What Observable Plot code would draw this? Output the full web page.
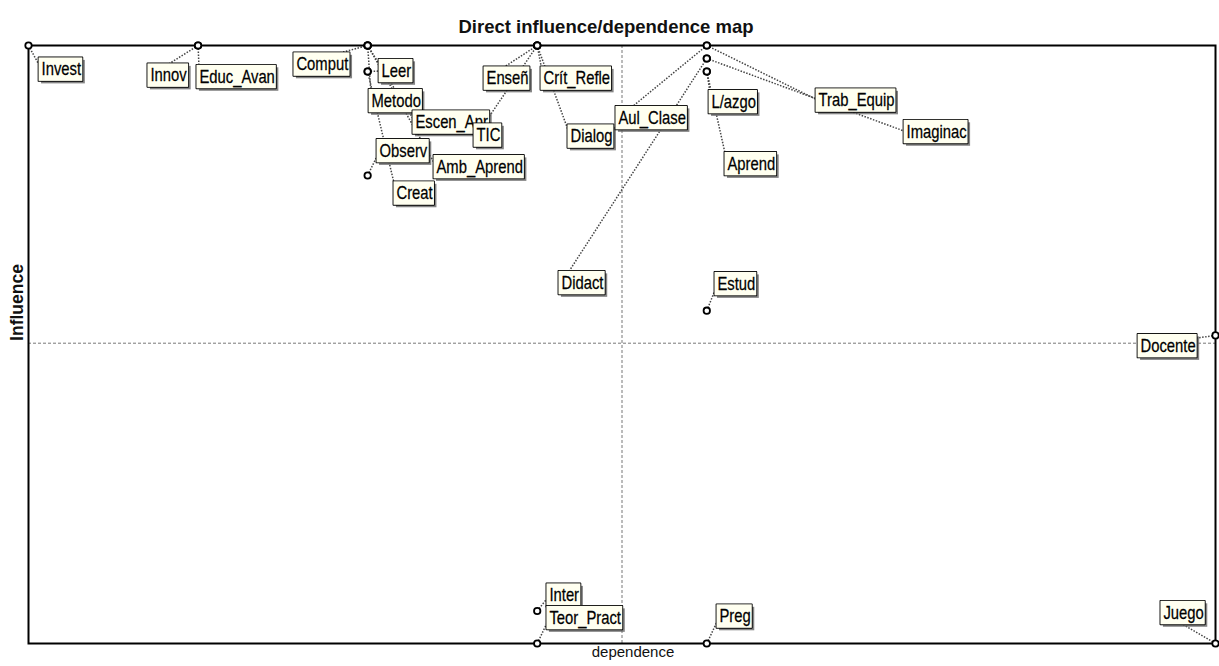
<!DOCTYPE html>
<html>
<head>
<meta charset="utf-8">
<script src="https://cdn.jsdelivr.net/npm/d3@7"></script>
<script src="https://cdn.jsdelivr.net/npm/@observablehq/plot@0.6"></script>
<style>
  html, body { margin: 0; padding: 0; background: #fff; }
  #chart svg { display: block; }
</style>
</head>
<body>
<div id="chart"></div>
<script>
const variables = ["Invest","Innov","Educ_Avan","Comput","Leer","Metodo","Escen_Apr","TIC","Observ","Amb_Aprend","Creat","Enseñ","Crít_Refle","Dialog","Aul_Clase","L/azgo","Aprend","Trab_Equip","Imaginac","Didact","Estud","Docente","Inter","Teor_Pract","Preg","Juego"];
const dependence = [0,1,1,2,2,2,2,3,2,2,2,3,3,3,4,4,4,4,4,4,4,7,3,3,4,7];
const influence = [46,46,46,46,44,46,46,46,36,46,44,46,46,46,46,44,44,46,45,45,25.6,23.7,2.5,0,0,0];
const labelDependence = [0.077,0.719,1.008,1.580,2.082,2.023,2.282,2.642,2.070,2.406,2.170,2.701,3.037,3.196,3.479,4.028,4.122,4.659,5.178,3.143,4.063,6.558,3.072,3.072,4.075,6.693];
const labelInfluence = [44.15,43.69,43.58,44.54,44.04,41.73,40.08,39.08,37.88,36.65,34.62,43.46,43.46,39.0,40.42,41.65,36.88,41.77,39.35,27.73,27.65,22.88,3.69,1.96,2.08,2.35];
const meanDependence = 3.5;
const meanInfluence = 23.1;
const titleText = "Direct influence/dependence map";
const xLabel = "dependence";
const yLabel = "Influence";

const rows = variables.map((name, i) => ({
  name, dep: dependence[i], inf: influence[i], lx: labelDependence[i], ly: labelInfluence[i]
}));

const sans = "'Liberation Sans', Arial, sans-serif";

const svg = Plot.plot({
  width: 1219,
  height: 666,
  marginTop: 45,
  marginRight: 4,
  marginBottom: 23,
  marginLeft: 28,
  style: {fontFamily: sans},
  x: {domain: [0, 7], axis: null},
  y: {domain: [0, 46], axis: null},
  marks: [
    Plot.ruleX([meanDependence], {stroke: "#777", strokeWidth: 1, strokeDasharray: "3,2"}),
    Plot.ruleY([meanInfluence], {stroke: "#777", strokeWidth: 1, strokeDasharray: "3,2"}),
    Plot.link(rows, {x1: "dep", y1: "inf", x2: "lx", y2: "ly", stroke: "#444", strokeWidth: 1.5, strokeDasharray: "1.5,1.5"}),
    Plot.frame({stroke: "#000", strokeWidth: 2}),
    Plot.text(rows, {x: "lx", y: "ly", text: "name", textAnchor: "start", fontFamily: sans, fontSize: 18.5, fill: "#000", stroke: "#000", strokeWidth: 0.25}),
    Plot.dot(rows, {x: "dep", y: "inf", r: 3.2, fill: "#fff", stroke: "#000", strokeWidth: 1.8}),
    Plot.text([titleText], {text: d => d, frameAnchor: "top", dy: -26, dx: -16, fontFamily: sans, fontWeight: "bold", fontSize: 18.5, fill: "#111"}),
    Plot.text([xLabel], {text: d => d, frameAnchor: "bottom", dy: 13, dx: 11, fontFamily: sans, fontSize: 15, fill: "#111"}),
    Plot.text([yLabel], {text: d => d, frameAnchor: "left", textAnchor: "middle", dx: -11, dy: -42, rotate: -90, fontFamily: sans, fontWeight: "bold", fontSize: 17.5, fill: "#111"})
  ]
});

document.getElementById("chart").append(svg);

const NS = "http://www.w3.org/2000/svg";
const nameSet = new Set(variables);

// condense the label font horizontally (Arial Narrow look)
function condense(el, k) {
  const tr = el.getAttribute("transform") || "";
  el.setAttribute("transform", `${tr} scale(${k},1)`.trim());
}

const labelTexts = Array.from(svg.querySelectorAll("text")).filter(t => nameSet.has(t.textContent));

labelTexts.forEach(t => condense(t, 0.8));

// draw boxed labels with drop shadow, behind each label text
labelTexts.forEach(t => {
  const parent = t.parentNode;
  const b = t.getBBox();
  const m = parent.getScreenCTM().inverse().multiply(t.getScreenCTM());
  const p1 = new DOMPoint(b.x, b.y).matrixTransform(m);
  const p2 = new DOMPoint(b.x + b.width, b.y + b.height).matrixTransform(m);
  const x = Math.min(p1.x, p2.x) - 3, y = Math.min(p1.y, p2.y) - 1.5;
  const w = Math.abs(p2.x - p1.x) + 4, h = Math.abs(p2.y - p1.y) + 2.5;
  const specs = [
    {dx: 2.5, fill: "#666", stroke: "none", opacity: 0.8},
    {dx: 0, fill: "#fffff0", stroke: "#000", opacity: 1}
  ];
  for (const s of specs) {
    const r = document.createElementNS(NS, "rect");
    r.setAttribute("x", x + s.dx);
    r.setAttribute("y", y + s.dx);
    r.setAttribute("width", w);
    r.setAttribute("height", h);
    r.setAttribute("fill", s.fill);
    r.setAttribute("stroke", s.stroke);
    r.setAttribute("stroke-width", 1.8);
    r.setAttribute("opacity", s.opacity);
    parent.insertBefore(r, t);
  }
});
</script>
</body>
</html>
